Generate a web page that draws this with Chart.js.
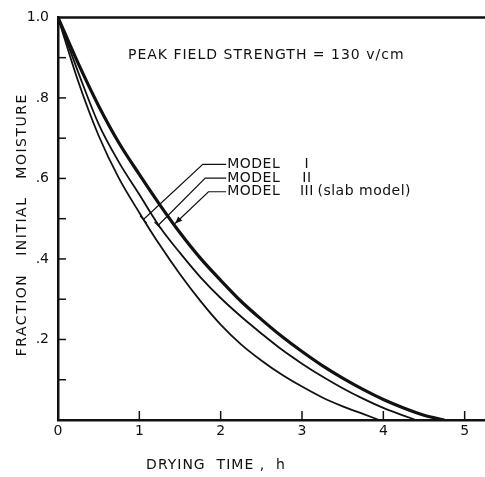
<!DOCTYPE html>
<html>
<head>
<meta charset="utf-8">
<script src="https://cdn.jsdelivr.net/npm/chart.js@4"></script>
<style>
html,body{margin:0;padding:0;background:#fff;}
canvas{display:block;}
</style>
</head>
<body>
<canvas id="c" width="485" height="477"></canvas>
<script>
// ---- data ----
const timeI  = [0, 0.25, 0.5, 0.75, 1.0, 1.25, 1.5, 1.75, 2.0, 2.25, 2.5, 2.75, 3.0, 3.25, 3.5, 3.75, 3.95];
const moistI = [1.0, 0.84, 0.706, 0.60, 0.515, 0.435, 0.362, 0.296, 0.237, 0.188, 0.148, 0.113, 0.083, 0.056, 0.034, 0.015, 0];

const timeII  = [0, 0.25, 0.5, 0.75, 1.0, 1.25, 1.5, 1.75, 2.0, 2.25, 2.5, 2.75, 3.0, 3.25, 3.5, 3.75, 4.0, 4.25, 4.4];
const moistII = [1.0, 0.863, 0.735, 0.64, 0.56, 0.48, 0.415, 0.355, 0.303, 0.257, 0.215, 0.175, 0.14, 0.108, 0.079, 0.053, 0.03, 0.011, 0];

const timeIII  = [0, 0.25, 0.5, 0.75, 1.0, 1.25, 1.5, 1.75, 2.0, 2.25, 2.5, 2.75, 3.0, 3.25, 3.5, 3.75, 4.0, 4.25, 4.5, 4.75];
const moistIII = [1.0, 0.885, 0.78, 0.688, 0.61, 0.535, 0.465, 0.402, 0.347, 0.295, 0.25, 0.208, 0.17, 0.135, 0.104, 0.076, 0.051, 0.03, 0.012, 0];

const seriesNames = ['MODEL I', 'MODEL II', 'MODEL III (slab model)'];
const xTickLabels = ['0', '1', '2', '3', '4', '5'];
const yTickLabels = {2: '.2', 4: '.4', 6: '.6', 8: '.8', 10: '1.0'};

const toPts = (xs, ys) => xs.map((x, i) => ({x: x, y: ys[i]}));

// ---- annotation layout (data units) ----
const annot = {
  peak: {x: 0.86, y: 0.905, text: 'PEAK FIELD STRENGTH = 130 v/cm'},
  labelX: 2.08, numeralX: 3.06, slabX: 3.19,
  leaders: [
    {hx: 1.78, y: 0.635, ex: 1.05, ey: 0.498, numeral: 'I',   extra: '',             arrow: false},
    {hx: 1.81, y: 0.601, ex: 1.23, ey: 0.483, numeral: 'II',  extra: '',             arrow: false},
    {hx: 1.85, y: 0.567, ex: 1.44, ey: 0.488, numeral: 'III', extra: '(slab model)', arrow: true}
  ]
};

const FONT = '"DejaVu Sans", sans-serif';
const INK = '#111';

const decor = {
  id: 'decor',
  afterDraw(chart) {
    const ctx = chart.ctx;
    const xs = chart.scales.x, ys = chart.scales.y;
    const X = v => xs.getPixelForValue(v), Y = v => ys.getPixelForValue(v);
    const ca = chart.chartArea;
    ctx.save();
    ctx.strokeStyle = INK; ctx.fillStyle = INK;
    // top frame line
    ctx.lineWidth = 2.5;
    ctx.beginPath(); ctx.moveTo(ca.left - 1, Y(1)); ctx.lineTo(ca.right, Y(1)); ctx.stroke();
    // inward y ticks
    ctx.lineWidth = 1.5;
    for (let k = 1; k <= 9; k++) {
      const py = Y(k / 10);
      ctx.beginPath(); ctx.moveTo(ca.left, py); ctx.lineTo(ca.left + 8, py); ctx.stroke();
    }
    // inward x ticks
    for (let k = 1; k <= 5; k++) {
      const px = X(k);
      ctx.beginPath(); ctx.moveTo(px, Y(0)); ctx.lineTo(px, Y(0) - 9); ctx.stroke();
    }
    // axis titles
    ctx.textBaseline = 'middle';
    ctx.font = '14px ' + FONT;
    ctx.letterSpacing = '1px';
    ctx.textAlign = 'center';
    ctx.fillText('DRYING  TIME ,  h', 216, 465);
    ctx.save();
    ctx.translate(22, (Y(0) + Y(1)) / 2 + 6);
    ctx.rotate(-Math.PI / 2);
    ctx.letterSpacing = '1.5px';
    ctx.fillText('FRACTION   INITIAL   MOISTURE', 0, 0);
    ctx.restore();
    // peak annotation
    ctx.textAlign = 'left';
    ctx.font = '14px ' + FONT;
    ctx.letterSpacing = '1px';
    ctx.fillText(annot.peak.text, X(annot.peak.x), Y(annot.peak.y));
    // leaders and model labels
    ctx.font = '14px ' + FONT;
    ctx.letterSpacing = '0.5px';
    ctx.lineWidth = 1.2;
    annot.leaders.forEach(L => {
      const hx = X(L.hx), hy = Y(L.y), tx = X(annot.labelX) - 1;
      const ex = X(L.ex), ey = Y(L.ey);
      ctx.beginPath(); ctx.moveTo(tx, hy); ctx.lineTo(hx, hy); ctx.lineTo(ex, ey); ctx.stroke();
      const dx = ex - hx, dy = ey - hy, len = Math.hypot(dx, dy);
      const ux = dx / len, uy = dy / len;
      if (L.arrow) {
        const s = 7, w = 3;
        ctx.beginPath();
        ctx.moveTo(ex, ey);
        ctx.lineTo(ex - ux * s - uy * w, ey - uy * s + ux * w);
        ctx.lineTo(ex - ux * s + uy * w, ey - uy * s - ux * w);
        ctx.closePath(); ctx.fill();
      } else {
        const px = -uy, py = ux, h = 5;
        ctx.beginPath(); ctx.moveTo(ex - px * h, ey - py * h); ctx.lineTo(ex + px * h, ey + py * h); ctx.stroke();
      }
      ctx.textAlign = 'left';
      ctx.fillText('MODEL', X(annot.labelX), hy);
      ctx.textAlign = 'center';
      ctx.fillText(L.numeral, X(annot.numeralX), hy);
      if (L.extra) { ctx.textAlign = 'left'; ctx.fillText(L.extra, X(annot.slabX), hy); }
    });
    ctx.restore();
  }
};

new Chart(document.getElementById('c'), {
  type: 'line',
  data: {
    datasets: [
      {label: seriesNames[0], data: toPts(timeI, moistI), borderColor: INK, borderWidth: 1.8},
      {label: seriesNames[1], data: toPts(timeII, moistII), borderColor: INK, borderWidth: 1.8},
      {label: seriesNames[2], data: toPts(timeIII, moistIII), borderColor: INK, borderWidth: 3.2}
    ]
  },
  options: {
    responsive: false,
    devicePixelRatio: 1,
    animation: false,
    layout: {padding: {top: 14, right: 0, left: 0, bottom: 0}},
    elements: {point: {radius: 0}, line: {cubicInterpolationMode: 'monotone', fill: false}},
    plugins: {legend: {display: false}, tooltip: {enabled: false}, title: {display: false}},
    scales: {
      x: {
        type: 'linear', min: 0, max: 5.25,
        grid: {display: false, drawTicks: false},
        border: {display: true, color: INK, width: 2.5},
        ticks: {stepSize: 1, includeBounds: false, color: INK, padding: 3, maxRotation: 0,
          font: {family: FONT, size: 14},
          callback: v => (Number.isInteger(v) && v >= 0 && v <= 5) ? xTickLabels[v] : ''},
        afterFit: s => { s.height = 57; }
      },
      y: {
        type: 'linear', min: 0, max: 1.0,
        grid: {display: false, drawTicks: false},
        border: {display: true, color: INK, width: 2.5},
        ticks: {stepSize: 0.1, includeBounds: false, color: INK, padding: 9,
          font: {family: FONT, size: 14},
          callback: v => yTickLabels[Math.round(v * 10)] || ''},
        afterFit: s => { s.width = 58; }
      }
    }
  },
  plugins: [decor]
});
</script>
</body>
</html>
